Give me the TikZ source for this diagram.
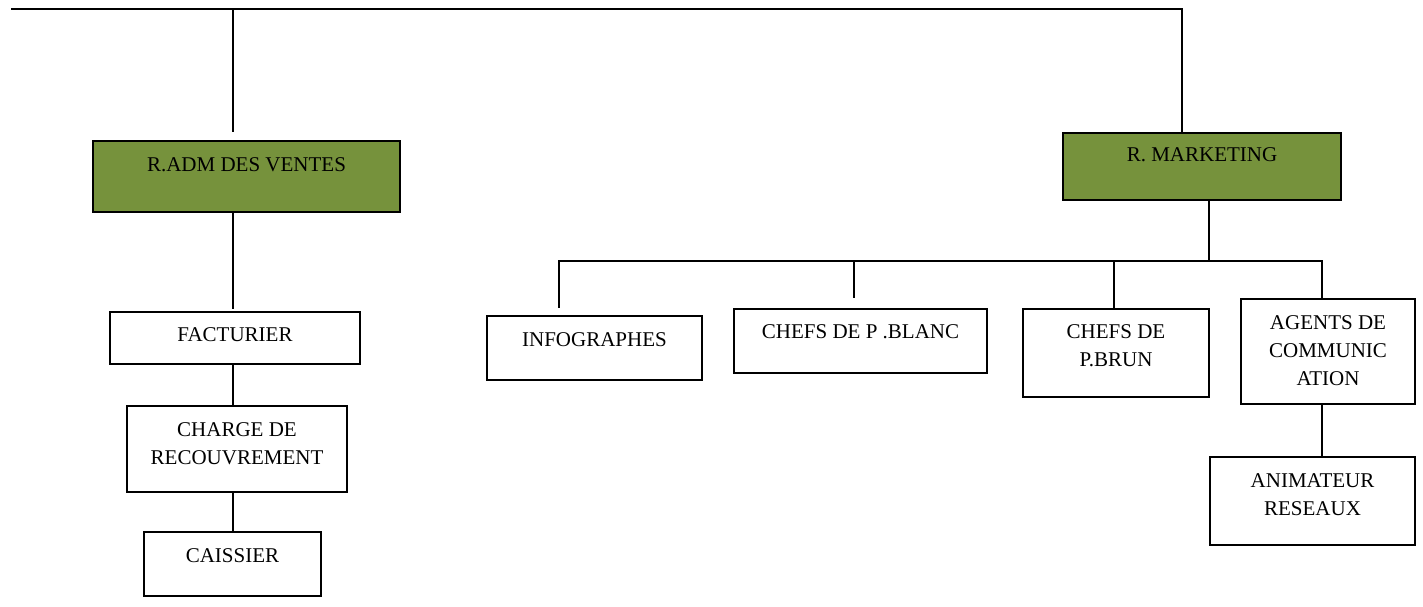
\documentclass[tikz,border=0pt]{standalone}
\usepackage{fontspec}
\setmainfont{Liberation Serif}
\usetikzlibrary{calc}
\definecolor{olive}{HTML}{76923C}
\begin{document}
\begin{tikzpicture}[x=1pt,y=-1pt,
  link/.style={line width=1.6pt, line cap=rect},
  unit/.style={draw, line width=1.6pt, fill=white, inner sep=0pt},
  head/.style={unit, fill=olive},
  lbl/.style={anchor=north, inner sep=0pt, align=center,
    font=\fontsize{21pt}{28pt}\selectfont}]
\useasboundingbox (0,0) rectangle (1423,607);

% boxes
\node[head, minimum width=307pt, minimum height=71pt] (radm) at (246.5,176.5) {};
\node[head, minimum width=278pt, minimum height=67pt] (mkt) at (1202,166.5) {};
\node[unit, minimum width=250pt, minimum height=52pt] (fact) at (235,338) {};
\node[unit, minimum width=220pt, minimum height=86pt] (charge) at (237,449) {};
\node[unit, minimum width=177pt, minimum height=64pt] (caiss) at (232.5,564) {};
\node[unit, minimum width=215pt, minimum height=64pt] (info) at (594.5,348) {};
\node[unit, minimum width=253pt, minimum height=64pt] (blanc) at (860.5,341) {};
\node[unit, minimum width=186pt, minimum height=88pt] (brun) at (1116,353) {};
\node[unit, minimum width=174pt, minimum height=105pt] (agents) at (1328,351.5) {};
\node[unit, minimum width=205pt, minimum height=88pt] (anim) at (1312.5,501) {};

% labels, set near the top of each box
\node[lbl] (radm-t) at (246.5,157) {R.ADM DES VENTES};
\node[lbl] (mkt-t) at (1202,147.5) {R. MARKETING};
\node[lbl] (fact-t) at (235,327.5) {FACTURIER};
\node[lbl] (charge-t) at (237,422) {CHARGE DE\\RECOUVREMENT};
\node[lbl] (caiss-t) at (232.5,548) {CAISSIER};
\node[lbl] (info-t) at (594.5,332) {INFOGRAPHES};
\node[lbl] (blanc-t) at (860.5,324) {CHEFS DE P .BLANC};
\node[lbl] (brun-t) at (1116,324) {CHEFS DE\\P.BRUN};
\node[lbl] (agents-t) at (1328,315) {AGENTS DE\\COMMUNIC\\ATION};
\node[lbl] (anim-t) at (1312.5,473) {ANIMATEUR\\RESEAUX};

% junction points
\coordinate (topL) at (12,9);
\coordinate (topR) at (1182,9);
\coordinate (drop) at (233,9);
\coordinate (dropEnd) at (233,131);
\coordinate (factIn) at (233,308);
\coordinate (mktOut) at (1209,261);
\coordinate (barL) at (559,261);
\coordinate (barR) at (1322,261);
\coordinate (infoIn) at (559,307);
\coordinate (blancBar) at (854,261);
\coordinate (blancIn) at (854,297);
\coordinate (brunBar) at (1114,261);

% connectors
\draw[link] (topL) -- (topR) -- (topR |- mkt.north);
\draw[link] (drop) -- (dropEnd);
\draw[link] (factIn |- radm.south) -- (factIn);
\draw[link] (fact.south -| factIn) -- (factIn |- charge.north);
\draw[link] (charge.south -| factIn) -- (factIn |- caiss.north);
\draw[link] (mktOut |- mkt.south) -- (mktOut);
\draw[link] (barL) -- (barR);
\draw[link] (barL) -- (infoIn);
\draw[link] (blancBar) -- (blancIn);
\draw[link] (brunBar) -- (brunBar |- brun.north);
\draw[link] (barR) -- (barR |- agents.north);
\draw[link] (barR |- agents.south) -- (barR |- anim.north);
\end{tikzpicture}
\end{document}
